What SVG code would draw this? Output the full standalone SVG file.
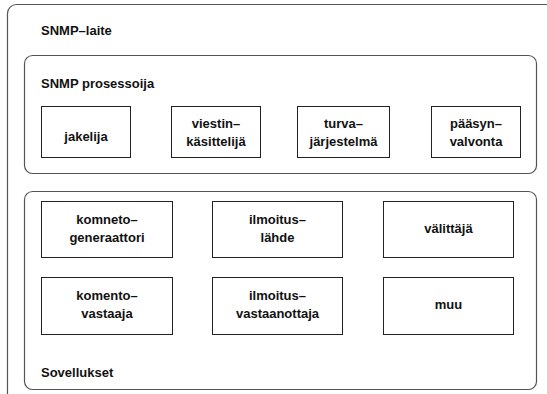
<svg xmlns="http://www.w3.org/2000/svg" width="547" height="394" viewBox="0 0 547 394">
<style>
.c{fill:#fff;stroke:#555;stroke-width:1.2}
.b{fill:#fff;stroke:#222;stroke-width:1}
text{font-family:"Liberation Sans",Arial,sans-serif;font-weight:bold;font-size:13px;fill:#111}
.m{text-anchor:middle}
</style>
<g id="snmp-laite">
<rect class="c" x="7.5" y="4.5" width="580" height="420" rx="9"/>
<text x="41" y="35">SNMP–laite</text>
</g>
<g id="prosessoija">
<rect class="c" x="24.5" y="55.5" width="512" height="118" rx="8"/>
<text x="41" y="88">SNMP prosessoija</text>
</g>
<g id="jakelija">
<rect class="b" x="41.5" y="106.5" width="89" height="51"/>
<text class="m" x="86" y="141">jakelija</text>
</g>
<g id="viestinkasittelija">
<rect class="b" x="171.5" y="106.5" width="89" height="51"/>
<text class="m" x="216" y="128">viestin–</text>
<text class="m" x="216" y="146">käsittelijä</text>
</g>
<g id="turvajarjestelma">
<rect class="b" x="297.5" y="106.5" width="92" height="51"/>
<text class="m" x="343.5" y="128">turva–</text>
<text class="m" x="343.5" y="146">järjestelmä</text>
</g>
<g id="paasynvalvonta">
<rect class="b" x="431.5" y="106.5" width="89" height="51"/>
<text class="m" x="476" y="128">pääsyn–</text>
<text class="m" x="476" y="146">valvonta</text>
</g>
<g id="sovellukset">
<rect class="c" x="24.5" y="191.5" width="512" height="198" rx="8"/>
<text x="41" y="377">Sovellukset</text>
</g>
<g id="komentogeneraattori">
<rect class="b" x="41.5" y="201.5" width="131" height="56"/>
<text class="m" x="107" y="224">komneto–</text>
<text class="m" x="107" y="242">generaattori</text>
</g>
<g id="ilmoituslahde">
<rect class="b" x="212.5" y="201.5" width="130" height="56"/>
<text class="m" x="277.5" y="224">ilmoitus–</text>
<text class="m" x="277.5" y="242">lähde</text>
</g>
<g id="valittaja">
<rect class="b" x="383.5" y="201.5" width="130" height="56"/>
<text class="m" x="448.5" y="233">välittäjä</text>
</g>
<g id="komentovastaaja">
<rect class="b" x="41.5" y="277.5" width="131" height="57"/>
<text class="m" x="107" y="300">komento–</text>
<text class="m" x="107" y="318">vastaaja</text>
</g>
<g id="ilmoitusvastaanottaja">
<rect class="b" x="212.5" y="277.5" width="130" height="57"/>
<text class="m" x="277.5" y="300">ilmoitus–</text>
<text class="m" x="277.5" y="318">vastaanottaja</text>
</g>
<g id="muu">
<rect class="b" x="383.5" y="277.5" width="130" height="57"/>
<text class="m" x="448.5" y="309">muu</text>
</g>
<g id="connectors"></g>
</svg>
